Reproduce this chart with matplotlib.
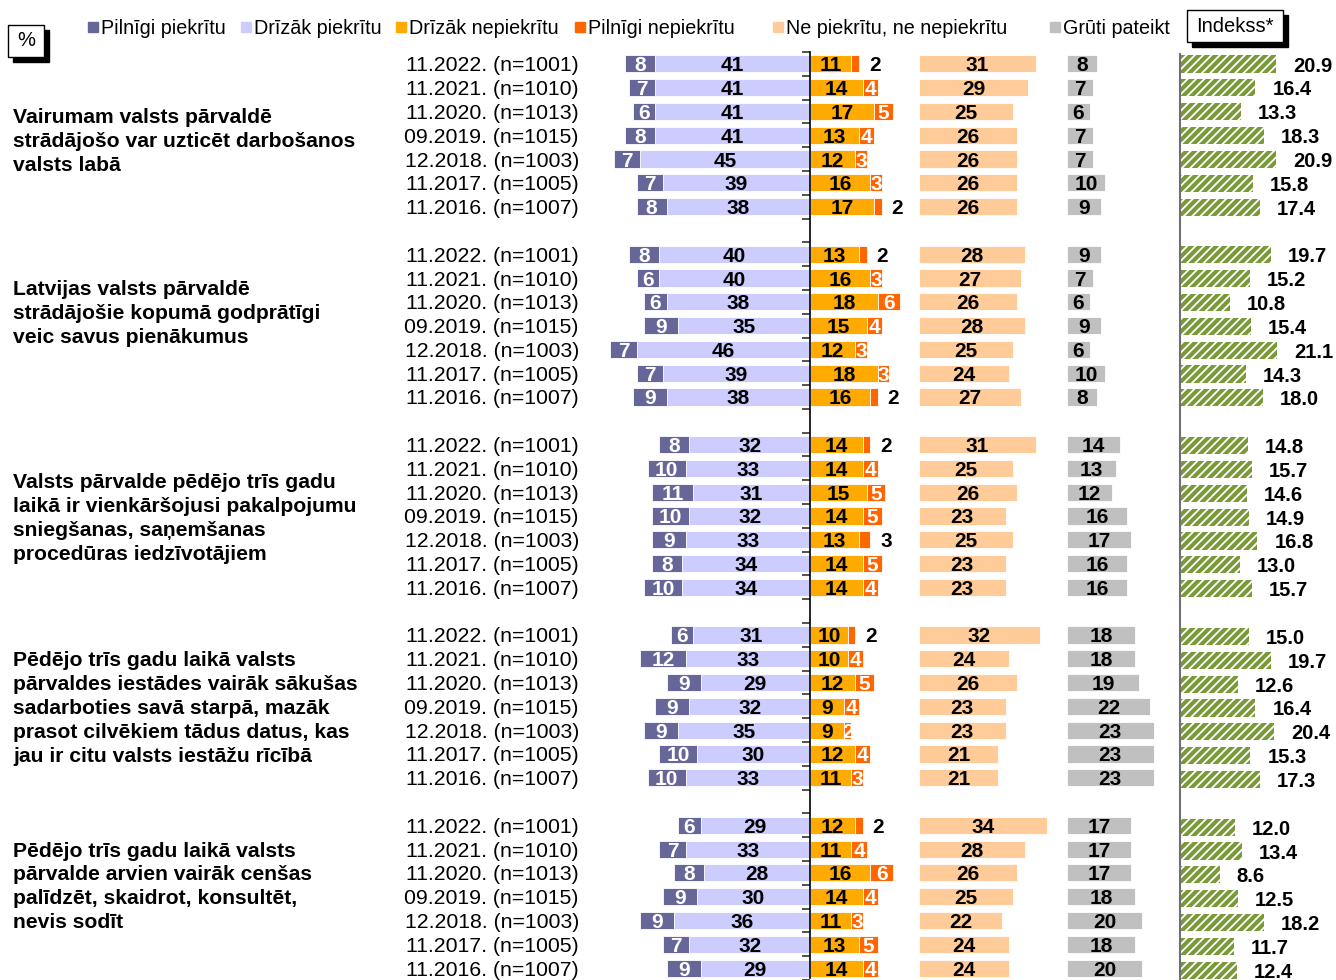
import numpy as np
import matplotlib.pyplot as plt
from matplotlib.patches import Rectangle

plt.rcParams['font.family'] = ['Liberation Sans', 'DejaVu Sans']
plt.rcParams['hatch.linewidth'] = 1.3

# ---- data ----
questions = [
    'Vairumam valsts pārvaldē\nstrādājošo var uzticēt darbošanos\nvalsts labā',
    'Latvijas valsts pārvaldē\nstrādājošie kopumā godprātīgi\nveic savus pienākumus',
    'Valsts pārvalde pēdējo trīs gadu\nlaikā ir vienkāršojusi pakalpojumu\nsniegšanas, saņemšanas\nprocedūras iedzīvotājiem',
    'Pēdējo trīs gadu laikā valsts\npārvaldes iestādes vairāk sākušas\nsadarboties savā starpā, mazāk\nprasot cilvēkiem tādus datus, kas\njau ir citu valsts iestāžu rīcībā',
    'Pēdējo trīs gadu laikā valsts\npārvalde arvien vairāk cenšas\npalīdzēt, skaidrot, konsultēt,\nnevis sodīt',
]
waves = ['11.2022. (n=1001)', '11.2021. (n=1010)', '11.2020. (n=1013)',
         '09.2019. (n=1015)', '12.2018. (n=1003)', '11.2017. (n=1005)',
         '11.2016. (n=1007)']

fully_agree = [[8, 7, 6, 8, 7, 7, 8],
               [8, 6, 6, 9, 7, 7, 9],
               [8, 10, 11, 10, 9, 8, 10],
               [6, 12, 9, 9, 9, 10, 10],
               [6, 7, 8, 9, 9, 7, 9]]
rather_agree = [[41, 41, 41, 41, 45, 39, 38],
                [40, 40, 38, 35, 46, 39, 38],
                [32, 33, 31, 32, 33, 34, 34],
                [31, 33, 29, 32, 35, 30, 33],
                [29, 33, 28, 30, 36, 32, 29]]
rather_disagree = [[11, 14, 17, 13, 12, 16, 17],
                   [13, 16, 18, 15, 12, 18, 16],
                   [14, 14, 15, 14, 13, 14, 14],
                   [10, 10, 12, 9, 9, 12, 11],
                   [12, 11, 16, 14, 11, 13, 14]]
fully_disagree = [[2, 4, 5, 4, 3, 3, 2],
                  [2, 3, 6, 4, 3, 3, 2],
                  [2, 4, 5, 5, 3, 5, 4],
                  [2, 4, 5, 4, 2, 4, 3],
                  [2, 4, 6, 4, 3, 5, 4]]
neutral = [[31, 29, 25, 26, 26, 26, 26],
           [28, 27, 26, 28, 25, 24, 27],
           [31, 25, 26, 23, 25, 23, 23],
           [32, 24, 26, 23, 23, 21, 21],
           [34, 28, 26, 25, 22, 24, 24]]
hard_to_say = [[8, 7, 6, 7, 7, 10, 9],
               [9, 7, 6, 9, 6, 10, 8],
               [14, 13, 12, 16, 17, 16, 16],
               [18, 18, 19, 22, 23, 23, 23],
               [17, 17, 17, 18, 20, 18, 20]]
index = [[20.9, 16.4, 13.3, 18.3, 20.9, 15.8, 17.4],
         [19.7, 15.2, 10.8, 15.4, 21.1, 14.3, 18.0],
         [14.8, 15.7, 14.6, 14.9, 16.8, 13.0, 15.7],
         [15.0, 19.7, 12.6, 16.4, 20.4, 15.3, 17.3],
         [12.0, 13.4, 8.6, 12.5, 18.2, 11.7, 12.4]]

legend_labels = ['Pilnīgi piekrītu', 'Drīzāk piekrītu', 'Drīzāk nepiekrītu',
                 'Pilnīgi nepiekrītu', 'Ne piekrītu, ne nepiekrītu', 'Grūti pateikt']

# ---- style / layout ----
C_FA, C_RA, C_RD, C_FD = '#666699', '#CCCCFF', '#FFAA00', '#FF6600'
C_NEU, C_HARD, C_IDX = '#FFCC99', '#C0C0C0', '#7A9A3A'
W, H = 1336, 980
PX = 3.77            # pixels per percent
CENTER = 810         # pixel position of the 0 line
ROW0, ROW_PX = 64, 23.85
NEU_X0 = (919 - CENTER) / PX
HARD_X0 = (1067 - CENTER) / PX
IDX_PX = 4.6
BAR_H = 0.72
Q_SHIFT = [0.27, -0.52, 0.12, 0.09, -0.41]   # question text offset in rows
# dark orange labels that sit outside the bar (group, row)
FD_OUTSIDE = {(0, 0), (0, 6), (1, 0), (1, 6), (2, 0), (2, 4), (3, 0), (4, 0)}
VAL_FS = 15
VA = 'center_baseline'

fig = plt.figure(figsize=(W / 100, H / 100), dpi=100)
ax = fig.add_axes([0, 0, 1, 1])
ax.set_xlim(-CENTER / PX, (W - CENTER) / PX)
ylim = ((H - ROW0) / ROW_PX, -ROW0 / ROW_PX)
ax.set_ylim(*ylim)
ax.patch.set_alpha(0)

axi = fig.add_axes([1180 / W, 0, (W - 1180) / W, 1])
axi.set_xlim(0, (W - 1180) / IDX_PX)
axi.set_ylim(*ylim)
axi.patch.set_alpha(0)

bold = dict(fontsize=VAL_FS, fontweight='bold', ha='center', va=VA)
for g in range(5):
    rows = np.arange(7) + g * 8
    fa = np.array(fully_agree[g])
    ra = np.array(rather_agree[g])
    rd = np.array(rather_disagree[g])
    fd = np.array(fully_disagree[g])
    ne = np.array(neutral[g])
    hs = np.array(hard_to_say[g])
    ix = np.array(index[g])
    kw = dict(height=BAR_H, edgecolor='white', linewidth=0.6)
    ax.barh(rows, -ra, color=C_RA, **kw)
    ax.barh(rows, -fa, left=-ra, color=C_FA, **kw)
    ax.barh(rows, rd, color=C_RD, **kw)
    ax.barh(rows, fd, left=rd, color=C_FD, **kw)
    ax.barh(rows, ne, left=NEU_X0, color=C_NEU, **kw)
    ax.barh(rows, hs, left=HARD_X0, color=C_HARD, **kw)
    axi.barh(rows, ix, height=BAR_H, color=C_IDX, edgecolor='white',
             linewidth=0, hatch='////')

    for r, y in enumerate(rows):
        ax.text(-ra[r] - fa[r] / 2, y, str(fa[r]), color='white', **bold)
        ax.text(-ra[r] / 2, y, str(ra[r]), color='black', **bold)
        ax.text(rd[r] / 2, y, str(rd[r]), color='black', **bold)
        if (g, r) in FD_OUTSIDE:
            ax.text(rd[r] + fd[r] + 2.6, y, str(fd[r]), color='black',
                    fontsize=VAL_FS, fontweight='bold', ha='left', va=VA)
        else:
            ax.text(rd[r] + fd[r] / 2, y, str(fd[r]), color='white', **bold)
        ax.text(NEU_X0 + ne[r] / 2, y, str(ne[r]), color='black', **bold)
        ax.text(HARD_X0 + hs[r] / 2, y, str(hs[r]), color='black', **bold)
        axi.text(ix[r] + 17 / IDX_PX, y, f'{ix[r]:.1f}', fontsize=14.5,
                 fontweight='bold', ha='left', va=VA)
        ax.text((579 - CENTER) / PX, y, waves[r], fontsize=15.3,
                ha='right', va=VA)

    ax.text((13 - CENTER) / PX, rows.mean() + Q_SHIFT[g], questions[g],
            fontsize=15.2, fontweight='bold', ha='left', va='center',
            linespacing=1.33)

# centre axis with small ticks between rows
for s in ['top', 'right', 'bottom']:
    ax.spines[s].set_visible(False)
ax.spines['left'].set_position(('data', 0))
ax.spines['left'].set_bounds(-0.5, ylim[0])
ax.spines['left'].set_linewidth(1.2)
ax.set_yticks(np.arange(-0.5, 39, 1))
ax.tick_params(axis='y', direction='out', length=6, width=1.2,
               labelleft=False, color='#333333')
ax.set_xticks([])

for s in ['top', 'right', 'bottom']:
    axi.spines[s].set_visible(False)
axi.spines['left'].set_bounds(-0.4, ylim[0])
axi.spines['left'].set_color('#707070')
axi.spines['left'].set_linewidth(1.5)
axi.set_xticks([])
axi.set_yticks([])

# ---- legend ----
leg_colors = [C_FA, C_RA, C_RD, C_FD, C_NEU, C_HARD]
sq_x = [88, 241, 396, 575, 773, 1050]
for lab, col, x in zip(legend_labels, leg_colors, sq_x):
    fig.add_artist(Rectangle((x / W, 1 - 32 / H), 10 / W, 10 / H,
                             color=col, transform=fig.transFigure))
    fig.text((x + 13) / W, 1 - 28 / H, lab, fontsize=14.2, ha='left', va='center')


def shadow_box(x0, y0, x1, y1, text):
    fig.add_artist(Rectangle(((x0 + 5) / W, 1 - (y1 + 5) / H), (x1 - x0) / W,
                             (y1 - y0) / H, color='black',
                             transform=fig.transFigure))
    fig.add_artist(Rectangle((x0 / W, 1 - y1 / H), (x1 - x0) / W, (y1 - y0) / H,
                             facecolor='white', edgecolor='black', linewidth=1,
                             transform=fig.transFigure))
    fig.text((x0 + x1) / 2 / W, 1 - (y0 + y1) / 2 / H, text, fontsize=14.5,
             ha='center', va='center')


shadow_box(8, 25, 44, 57, '%')
shadow_box(1187, 10, 1283, 42, 'Indekss*')

fig.savefig('out.png', dpi=100)
